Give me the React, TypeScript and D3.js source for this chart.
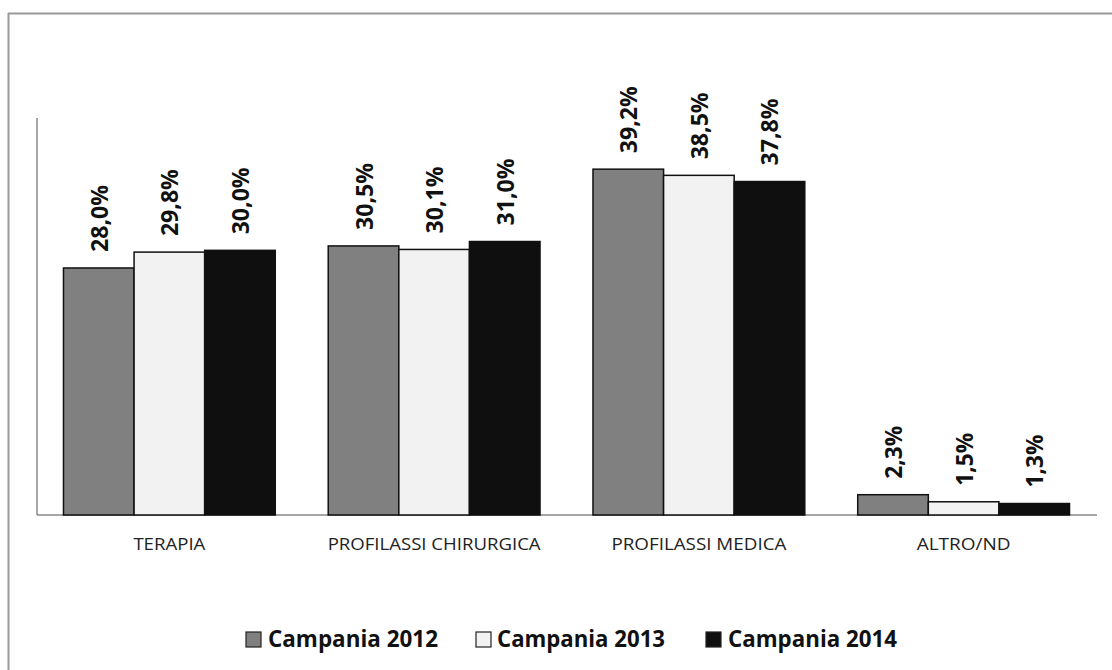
import React from "react";
import * as d3 from "d3";

const categories = ["TERAPIA", "PROFILASSI CHIRURGICA", "PROFILASSI MEDICA", "ALTRO/ND"];
const seriesNames = ["Campania 2012", "Campania 2013", "Campania 2014"];
const values2012 = [28.0, 30.5, 39.2, 2.3];
const values2013 = [29.8, 30.1, 38.5, 1.5];
const values2014 = [30.0, 31.0, 37.8, 1.3];
const seriesValues = [values2012, values2013, values2014];
const seriesColors = ["#808080", "#f2f2f2", "#0f0f0f"];
const catLabelWidths = [72, 213, 175, 94];

const W = 1112;
const H = 670;
const left = 37;
const right = 1096;
const baseY = 515;
const topY = 118;

const fmt = (v: number) => v.toFixed(1).replace(".", ",") + "%";

export default function App() {
  const x0 = d3.scaleBand<string>().domain(categories).range([left, right]).paddingInner(0.2).paddingOuter(0.1);
  const x1 = d3.scaleBand<number>().domain([0, 1, 2]).range([0, x0.bandwidth()]);
  const y = d3.scaleLinear().domain([0, 45]).range([baseY, topY]);
  const font = "'Open Sans', 'DejaVu Sans', sans-serif";

  const legendItems = [
    { sx: 246, tx: 268, tw: 170 },
    { sx: 476, tx: 497, tw: 168 },
    { sx: 706, tx: 728, tw: 169 },
  ];

  return (
    <svg width={W} height={H} style={{ position: "absolute", left: 0, top: 0, background: "#fff" }}>
      <rect x={0} y={0} width={W} height={H} fill="#fff" />
      {/* outer frame */}
      <line x1={8.5} y1={13} x2={8.5} y2={H} stroke="#999" strokeWidth={2} />
      <line x1={8} y1={13.5} x2={W} y2={13.5} stroke="#999" strokeWidth={2} />
      {/* axes */}
      <line x1={left} y1={topY} x2={left} y2={baseY} stroke="#888" strokeWidth={1.5} />
      <line x1={left} y1={baseY} x2={right + 1} y2={baseY} stroke="#888" strokeWidth={1.5} />
      {categories.map((c, ci) => (
        <g key={c}>
          {seriesValues.map((vals, si) => {
            const bx = (x0(c) as number) + (x1(si) as number);
            const bw = x1.bandwidth();
            const v = vals[ci];
            const ty = y(v);
            const cx = bx + bw / 2;
            const ly = ty - 16;
            return (
              <g key={si}>
                <rect x={bx} y={ty} width={bw} height={baseY - ty} fill={seriesColors[si]} stroke="#111" strokeWidth={1.5} />
                <text
                  x={cx + 9}
                  y={ly}
                  transform={`rotate(-90, ${cx + 9}, ${ly})`}
                  fontFamily={font}
                  fontWeight={700}
                  fontSize={24}
                  fill="#111"
                  textLength={vals[ci] < 10 ? 53 : 67}
                  lengthAdjust="spacingAndGlyphs"
                >
                  {fmt(v)}
                </text>
              </g>
            );
          })}
          <text
            x={(x0(c) as number) + x0.bandwidth() / 2}
            y={550}
            textAnchor="middle"
            fontFamily={font}
            fontSize={17}
            fill="#222"
            textLength={catLabelWidths[ci]}
            lengthAdjust="spacingAndGlyphs"
          >
            {c}
          </text>
        </g>
      ))}
      {seriesNames.map((s, si) => (
        <g key={s}>
          <rect x={legendItems[si].sx} y={632} width={15} height={15} fill={seriesColors[si]} stroke="#222" strokeWidth={1.2} />
          <text
            x={legendItems[si].tx}
            y={647}
            fontFamily={font}
            fontWeight={700}
            fontSize={23}
            fill="#111"
            textLength={legendItems[si].tw}
            lengthAdjust="spacingAndGlyphs"
          >
            {s}
          </text>
        </g>
      ))}
    </svg>
  );
}
